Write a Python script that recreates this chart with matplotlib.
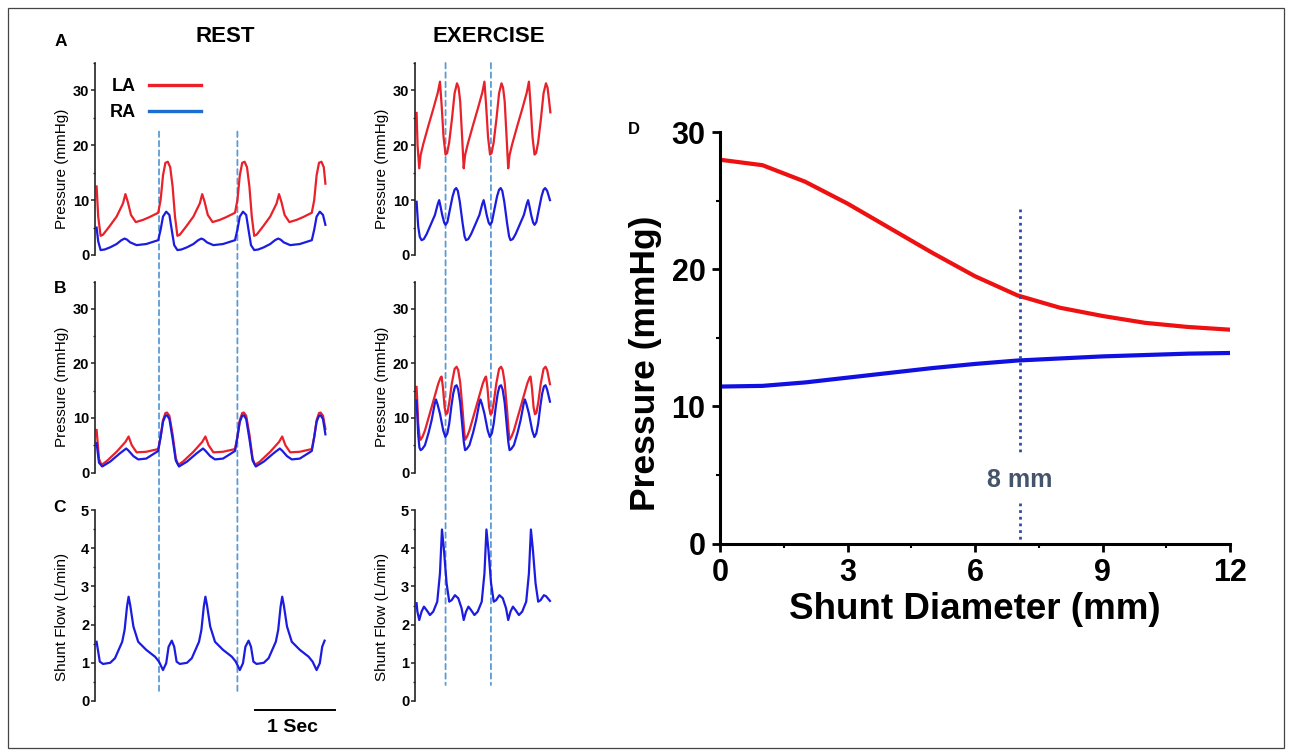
import matplotlib
matplotlib.use('Agg')
import matplotlib.pyplot as plt
from matplotlib.lines import Line2D
from matplotlib.patches import ConnectionPatch, Rectangle
from matplotlib.ticker import MultipleLocator

plt.rcParams['font.family'] = ['Liberation Sans', 'DejaVu Sans']

# ---------------- REST (time in s) ----------------
rest_a_la_t = [0.00, 0.02, 0.05, 0.08, 0.16, 0.25, 0.33, 0.36, 0.39, 0.43, 0.49, 0.58, 0.66, 0.77, 0.80, 0.83, 0.86, 0.89, 0.92, 0.95, 0.98,
               1.01, 1.04, 1.12, 1.21, 1.29, 1.32, 1.35, 1.39, 1.45, 1.54, 1.62, 1.73, 1.76, 1.79, 1.82, 1.85, 1.88, 1.91, 1.94,
               1.97, 2.00, 2.08, 2.17, 2.25, 2.28, 2.31, 2.35, 2.41, 2.50, 2.58, 2.69, 2.72, 2.75, 2.78, 2.81, 2.84, 2.86]
rest_a_la_p = [12.5, 7.0, 3.5, 3.7, 5.2, 7.0, 9.4, 11.1, 9.7, 7.3, 6.0, 6.4, 6.9, 7.7, 10.0, 14.5, 16.8, 17.0, 16.0, 12.5, 7.0,
               3.5, 3.7, 5.2, 7.0, 9.4, 11.1, 9.7, 7.3, 6.0, 6.4, 6.9, 7.7, 10.0, 14.5, 16.8, 17.0, 16.0, 12.5, 7.0,
               3.5, 3.7, 5.2, 7.0, 9.4, 11.1, 9.7, 7.3, 6.0, 6.4, 6.9, 7.7, 10.0, 14.5, 16.8, 17.0, 16.0, 13.0]

rest_a_ra_t = [0.00, 0.02, 0.05, 0.10, 0.17, 0.25, 0.31, 0.35, 0.38, 0.42, 0.50, 0.62, 0.77, 0.80, 0.83, 0.87, 0.91, 0.94, 0.97,
               1.01, 1.06, 1.13, 1.21, 1.27, 1.31, 1.34, 1.38, 1.46, 1.58, 1.73, 1.76, 1.79, 1.83, 1.87, 1.90, 1.93,
               1.97, 2.02, 2.09, 2.17, 2.23, 2.27, 2.30, 2.34, 2.42, 2.54, 2.69, 2.72, 2.75, 2.79, 2.83, 2.86]
rest_a_ra_p = [5.0, 2.5, 0.9, 1.0, 1.4, 2.0, 2.7, 3.0, 2.8, 2.3, 1.8, 2.0, 2.7, 4.6, 7.0, 7.9, 7.3, 4.5, 1.8,
               0.9, 1.0, 1.4, 2.0, 2.7, 3.0, 2.8, 2.3, 1.8, 2.0, 2.7, 4.6, 7.0, 7.9, 7.3, 4.5, 1.8,
               0.9, 1.0, 1.4, 2.0, 2.7, 3.0, 2.8, 2.3, 1.8, 2.0, 2.7, 4.6, 7.0, 7.9, 7.3, 5.5]

rest_b_la_t = [0.00, 0.03, 0.06, 0.12, 0.25, 0.36, 0.40, 0.44, 0.50, 0.62, 0.77, 0.80, 0.83, 0.86, 0.88, 0.91, 0.95, 0.99,
               1.02, 1.08, 1.21, 1.32, 1.36, 1.40, 1.46, 1.58, 1.73, 1.76, 1.79, 1.82, 1.84, 1.87, 1.91, 1.95,
               1.98, 2.04, 2.17, 2.28, 2.32, 2.36, 2.42, 2.54, 2.69, 2.72, 2.75, 2.78, 2.80, 2.83, 2.86]
rest_b_la_p = [7.8, 2.5, 1.4, 2.0, 3.8, 5.6, 6.6, 5.0, 3.7, 3.8, 4.3, 6.5, 9.6, 10.9, 11.0, 10.4, 7.0, 2.6,
               1.4, 2.0, 3.8, 5.6, 6.6, 5.0, 3.7, 3.8, 4.3, 6.5, 9.6, 10.9, 11.0, 10.4, 7.0, 2.6,
               1.4, 2.0, 3.8, 5.6, 6.6, 5.0, 3.7, 3.8, 4.3, 6.5, 9.6, 10.9, 11.0, 10.4, 8.0]

rest_b_ra_t = [0.00, 0.03, 0.07, 0.17, 0.29, 0.37, 0.40, 0.46, 0.52, 0.62, 0.77, 0.80, 0.83, 0.86, 0.88, 0.91, 0.95, 0.99,
               1.03, 1.13, 1.25, 1.33, 1.36, 1.42, 1.48, 1.58, 1.73, 1.76, 1.79, 1.82, 1.84, 1.87, 1.91, 1.95,
               1.99, 2.09, 2.21, 2.29, 2.32, 2.38, 2.44, 2.54, 2.69, 2.72, 2.75, 2.78, 2.80, 2.83, 2.86]
rest_b_ra_p = [5.4, 1.8, 1.1, 2.0, 3.5, 4.4, 4.0, 3.0, 2.4, 2.55, 3.95, 6.5, 9.3, 10.4, 10.5, 9.8, 6.2, 2.2,
               1.1, 2.0, 3.5, 4.4, 4.0, 3.0, 2.4, 2.55, 3.95, 6.5, 9.3, 10.4, 10.5, 9.8, 6.2, 2.2,
               1.1, 2.0, 3.5, 4.4, 4.0, 3.0, 2.4, 2.55, 3.95, 6.5, 9.3, 10.4, 10.5, 9.8, 7.0]

rest_c_t = [0.00, 0.01, 0.04, 0.08, 0.17, 0.23, 0.32, 0.35, 0.38, 0.40, 0.42, 0.46, 0.52, 0.62, 0.73, 0.78, 0.83, 0.87, 0.90, 0.94, 0.97, 1.00, 1.04,
            1.13, 1.19, 1.28, 1.31, 1.34, 1.36, 1.38, 1.42, 1.48, 1.58, 1.69, 1.74, 1.79, 1.83, 1.86, 1.90, 1.93, 1.96, 2.00,
            2.09, 2.15, 2.24, 2.27, 2.30, 2.32, 2.34, 2.38, 2.44, 2.54, 2.65, 2.70, 2.75, 2.79, 2.82, 2.85]
rest_c_q = [1.55, 1.42, 1.03, 0.97, 1.0, 1.12, 1.55, 1.86, 2.47, 2.73, 2.51, 1.95, 1.55, 1.34, 1.16, 1.03, 0.81, 0.99, 1.42, 1.58, 1.42, 1.03, 0.97,
            1.0, 1.12, 1.55, 1.86, 2.47, 2.73, 2.51, 1.95, 1.55, 1.34, 1.16, 1.03, 0.81, 0.99, 1.42, 1.58, 1.42, 1.03, 0.97,
            1.0, 1.12, 1.55, 1.86, 2.47, 2.73, 2.51, 1.95, 1.55, 1.34, 1.16, 1.03, 0.81, 0.99, 1.42, 1.58]

rest_dash_t = [0.78, 1.76]
scale_bar_t = [1.98, 2.98]

# ---------------- EXERCISE (time in s) ----------------
ex_a_la_t = [0.000, 0.012, 0.033, 0.050, 0.083, 0.146, 0.208, 0.265, 0.292, 0.312, 0.337, 0.362, 0.382, 0.407, 0.442, 0.475, 0.505, 0.525, 0.545, 0.567,
             0.589, 0.606, 0.639, 0.702, 0.764, 0.821, 0.848, 0.868, 0.893, 0.918, 0.938, 0.963, 0.998, 1.031, 1.061, 1.081, 1.101, 1.123,
             1.145, 1.162, 1.195, 1.258, 1.320, 1.377, 1.404, 1.424, 1.449, 1.474, 1.494, 1.519, 1.554, 1.587, 1.617, 1.637, 1.657, 1.672]
ex_a_la_p = [25.9, 20.0, 15.8, 18.2, 20.2, 23.5, 26.6, 29.6, 31.6, 27.5, 21.5, 18.3, 18.6, 20.5, 24.8, 29.5, 31.3, 30.5, 28.0, 22.0,
             15.8, 18.2, 20.2, 23.5, 26.6, 29.6, 31.6, 27.5, 21.5, 18.3, 18.6, 20.5, 24.8, 29.5, 31.3, 30.5, 28.0, 22.0,
             15.8, 18.2, 20.2, 23.5, 26.6, 29.6, 31.6, 27.5, 21.5, 18.3, 18.6, 20.5, 24.8, 29.5, 31.3, 30.5, 28.0, 26.0]

ex_a_ra_t = [0.000, 0.020, 0.040, 0.062, 0.090, 0.125, 0.167, 0.229, 0.265, 0.282, 0.300, 0.320, 0.345, 0.362, 0.385, 0.415, 0.450, 0.475, 0.495, 0.515, 0.540, 0.575, 0.600,
             0.618, 0.646, 0.681, 0.723, 0.785, 0.821, 0.838, 0.856, 0.876, 0.901, 0.918, 0.941, 0.971, 1.006, 1.031, 1.051, 1.071, 1.096, 1.131, 1.156,
             1.174, 1.202, 1.237, 1.279, 1.341, 1.377, 1.394, 1.412, 1.432, 1.457, 1.474, 1.497, 1.527, 1.562, 1.587, 1.607, 1.632, 1.667]
ex_a_ra_p = [9.7, 5.2, 3.3, 2.7, 2.9, 3.8, 5.2, 7.3, 9.3, 10.0, 8.8, 7.3, 5.9, 5.5, 6.0, 8.2, 10.7, 11.9, 12.2, 11.7, 9.7, 5.8, 3.4,
             2.7, 2.9, 3.8, 5.2, 7.3, 9.3, 10.0, 8.8, 7.3, 5.9, 5.5, 6.0, 8.2, 10.7, 11.9, 12.2, 11.7, 9.7, 5.8, 3.4,
             2.7, 2.9, 3.8, 5.2, 7.3, 9.3, 10.0, 8.8, 7.3, 5.9, 5.5, 6.0, 8.2, 10.7, 11.9, 12.2, 11.7, 10.0]

ex_b_la_t = [0.000, 0.020, 0.035, 0.050, 0.075, 0.104, 0.188, 0.271, 0.300, 0.312, 0.330, 0.350, 0.367, 0.385, 0.410, 0.440, 0.475, 0.500, 0.520, 0.545, 0.575, 0.595,
             0.606, 0.631, 0.660, 0.744, 0.827, 0.856, 0.868, 0.886, 0.906, 0.923, 0.941, 0.966, 0.996, 1.031, 1.056, 1.076, 1.101, 1.131, 1.151,
             1.162, 1.187, 1.216, 1.300, 1.383, 1.412, 1.424, 1.442, 1.462, 1.479, 1.497, 1.522, 1.552, 1.587, 1.612, 1.632, 1.667]
ex_b_la_p = [15.7, 9.0, 6.8, 6.0, 6.6, 7.7, 12.0, 16.3, 17.4, 17.6, 15.5, 12.0, 10.7, 10.9, 13.0, 16.3, 19.0, 19.4, 18.8, 16.5, 11.4, 7.5,
             6.0, 6.6, 7.7, 12.0, 16.3, 17.4, 17.6, 15.5, 12.0, 10.7, 10.9, 13.0, 16.3, 19.0, 19.4, 18.8, 16.5, 11.4, 7.5,
             6.0, 6.6, 7.7, 12.0, 16.3, 17.4, 17.6, 15.5, 12.0, 10.7, 10.9, 13.0, 16.3, 19.0, 19.4, 18.8, 16.2]

ex_b_ra_t = [0.000, 0.020, 0.035, 0.050, 0.070, 0.104, 0.150, 0.188, 0.225, 0.242, 0.260, 0.292, 0.333, 0.360, 0.385, 0.408, 0.435, 0.458, 0.480, 0.500, 0.520, 0.545, 0.570, 0.590,
             0.606, 0.626, 0.660, 0.706, 0.744, 0.781, 0.798, 0.816, 0.848, 0.889, 0.916, 0.941, 0.964, 0.991, 1.014, 1.036, 1.056, 1.076, 1.101, 1.126, 1.146,
             1.162, 1.182, 1.216, 1.262, 1.300, 1.337, 1.354, 1.372, 1.404, 1.445, 1.472, 1.497, 1.520, 1.547, 1.570, 1.592, 1.612, 1.632, 1.667]
ex_b_ra_p = [13.2, 7.0, 4.6, 4.1, 4.3, 5.0, 7.3, 9.6, 12.5, 13.4, 12.6, 10.8, 7.7, 6.5, 7.2, 9.0, 12.2, 14.5, 15.8, 16.0, 15.2, 12.8, 8.8, 5.6,
             4.1, 4.3, 5.0, 7.3, 9.6, 12.5, 13.4, 12.6, 10.8, 7.7, 6.5, 7.2, 9.0, 12.2, 14.5, 15.8, 16.0, 15.2, 12.8, 8.8, 5.6,
             4.1, 4.3, 5.0, 7.3, 9.6, 12.5, 13.4, 12.6, 10.8, 7.7, 6.5, 7.2, 9.0, 12.2, 14.5, 15.8, 16.0, 15.2, 13.0]

ex_c_t = [0.000, 0.010, 0.033, 0.062, 0.092, 0.125, 0.167, 0.208, 0.258, 0.292, 0.317, 0.342, 0.375, 0.408, 0.438, 0.479, 0.521, 0.562,
          0.589, 0.618, 0.648, 0.681, 0.723, 0.764, 0.814, 0.848, 0.873, 0.898, 0.931, 0.964, 0.994, 1.035, 1.077, 1.118,
          1.145, 1.174, 1.204, 1.237, 1.279, 1.320, 1.370, 1.404, 1.429, 1.454, 1.487, 1.520, 1.550, 1.591, 1.620, 1.667]
ex_c_q = [2.56, 2.34, 2.12, 2.34, 2.47, 2.38, 2.25, 2.34, 2.60, 3.34, 4.49, 3.95, 3.08, 2.60, 2.64, 2.77, 2.69, 2.43,
          2.12, 2.34, 2.47, 2.38, 2.25, 2.34, 2.60, 3.34, 4.49, 3.95, 3.08, 2.60, 2.64, 2.77, 2.69, 2.43,
          2.12, 2.34, 2.47, 2.38, 2.25, 2.34, 2.60, 3.34, 4.49, 3.95, 3.08, 2.60, 2.64, 2.77, 2.74, 2.62]

ex_dash_t = [0.362, 0.929]

# ---------------- D: pressure vs shunt diameter ----------------
shunt_mm = [0, 1, 2, 3, 4, 5, 6, 7, 8, 9, 10, 11, 12]
la_mean = [28.0, 27.6, 26.4, 24.8, 23.0, 21.2, 19.5, 18.1, 17.2, 16.6, 16.1, 15.8, 15.6]
ra_mean = [11.45, 11.5, 11.75, 12.1, 12.45, 12.8, 13.1, 13.35, 13.5, 13.65, 13.75, 13.85, 13.9]
mark_mm = 7.06
mark_segments = [(24.4, 6.45), (2.98, 0.0)]
mark_label = '8 mm'

legend_labels = ['LA', 'RA']

RED = '#e8212a'
BLUE = '#1c1ce0'
DASH = '#5b9bd5'

W, H = 1292, 755
fig = plt.figure(figsize=(W / 100, H / 100), dpi=100)


def px_axes(left, top, right, bottom):
    return fig.add_axes([left / W, 1 - bottom / H, (right - left) / W, (bottom - top) / H])


def style_trace_axes(ax, xlim, ylim, major, minor, ylabel, label_y):
    ax.set_xlim(*xlim)
    ax.set_ylim(*ylim)
    for s in ['top', 'right', 'bottom']:
        ax.spines[s].set_visible(False)
    ax.spines['left'].set_linewidth(1.2)
    ax.spines['left'].set_color('#222222')
    ax.set_xticks([])
    ax.set_yticks(major)
    ax.yaxis.set_minor_locator(MultipleLocator(minor))
    ax.tick_params(axis='y', which='major', length=3.2, width=1.1, pad=1, labelsize=10.5, colors='#222222')
    ax.tick_params(axis='y', which='minor', length=1.8, width=0.9, colors='#222222')
    for lbl in ax.get_yticklabels():
        lbl.set_fontweight('bold')
        lbl.set_color('black')
    ax.set_ylabel(ylabel, fontsize=11)
    w_px = ax.get_position().width * W
    ax.yaxis.set_label_coords(-26 / w_px, label_y)
    ax.patch.set_alpha(0)


# rest column
ax_ra = px_axes(95, 63, 335, 255)
ax_rb = px_axes(95, 281.7, 335, 472.5)
ax_rc = px_axes(95, 510, 335, 701)
# exercise column
ax_ea = px_axes(415, 63, 555, 255)
ax_eb = px_axes(415, 281.7, 555, 472.5)
ax_ec = px_axes(415, 510, 555, 701)

rest_x = (-0.02, 2.98)
ex_x = (-0.02, 1.73)
for ax, xl in [(ax_ra, rest_x), (ax_ea, ex_x)]:
    style_trace_axes(ax, xl, (0, 35), [0, 10, 20, 30], 5, 'Pressure (mmHg)', 0.448)
for ax, xl in [(ax_rb, rest_x), (ax_eb, ex_x)]:
    style_trace_axes(ax, xl, (0, 35), [0, 10, 20, 30], 5, 'Pressure (mmHg)', 0.45)
for ax, xl in [(ax_rc, rest_x), (ax_ec, ex_x)]:
    style_trace_axes(ax, xl, (0, 5), [0, 1, 2, 3, 4, 5], 0.5, 'Shunt Flow (L/min)', 0.44)

lw = 1.6
ax_ra.plot(rest_a_la_t, rest_a_la_p, color=RED, lw=lw)
ax_ra.plot(rest_a_ra_t, rest_a_ra_p, color=BLUE, lw=lw)
ax_rb.plot(rest_b_la_t, rest_b_la_p, color=RED, lw=lw)
ax_rb.plot(rest_b_ra_t, rest_b_ra_p, color=BLUE, lw=lw)
ax_rc.plot(rest_c_t, rest_c_q, color=BLUE, lw=lw)

ax_ea.plot(ex_a_la_t, ex_a_la_p, color=RED, lw=lw)
ax_ea.plot(ex_a_ra_t, ex_a_ra_p, color=BLUE, lw=lw)
ax_eb.plot(ex_b_la_t, ex_b_la_p, color=RED, lw=lw)
ax_eb.plot(ex_b_ra_t, ex_b_ra_p, color=BLUE, lw=lw)
ax_ec.plot(ex_c_t, ex_c_q, color=BLUE, lw=lw)

# dashed timing markers spanning A to C
for t in rest_dash_t:
    con = ConnectionPatch(xyA=(t, 22.5), coordsA=ax_ra.transData, xyB=(t, 0.18), coordsB=ax_rc.transData,
                          color=DASH, lw=1.3, linestyle=(0, (3, 2.2)), shrinkA=0, shrinkB=0, zorder=0)
    fig.add_artist(con)
for t in ex_dash_t:
    con = ConnectionPatch(xyA=(t, 35), coordsA=ax_ea.transData, xyB=(t, 0.42), coordsB=ax_ec.transData,
                          color=DASH, lw=1.3, linestyle=(0, (3, 2.2)), shrinkA=0, shrinkB=0, zorder=0)
    fig.add_artist(con)

# legend
handles = [Line2D([], [], color=RED, lw=2.4), Line2D([], [], color='#1b6fd1', lw=2.4)]
ax_ra.legend(handles, legend_labels, loc='upper left', bbox_to_anchor=(0.0625, 0.92), frameon=False,
             markerfirst=False, handlelength=2.9, handletextpad=0.7, labelspacing=0.5,
             borderpad=0, borderaxespad=0, prop={'weight': 'bold', 'size': 13})

# time scale bar
ax_rc.plot(scale_bar_t, [-0.24, -0.24], color='black', lw=1.4, clip_on=False)
ax_rc.text(sum(scale_bar_t) / 2 - 0.03, -0.7, '1 Sec', ha='center', va='center', fontsize=14, fontweight='bold')

# column titles and panel letters
fig.text(225 / W, 1 - 37 / H, 'REST', ha='center', va='center', fontsize=16, fontweight='bold')
fig.text(489 / W, 1 - 37 / H, 'EXERCISE', ha='center', va='center', fontsize=16, fontweight='bold')
for letter, (x, y) in zip(['A', 'B', 'C'], [(61, 41), (60, 288), (60, 508)]):
    fig.text(x / W, 1 - y / H, letter, ha='center', va='center', fontsize=12.5, fontweight='bold')

# ---------------- panel D ----------------
ax_d = px_axes(720, 132.3, 1230, 543.5)
ax_d.plot(shunt_mm, la_mean, color='#ee1111', lw=3)
ax_d.plot(shunt_mm, ra_mean, color='#1010e0', lw=3)
for y0, y1 in mark_segments:
    ax_d.plot([mark_mm, mark_mm], [y0, y1], color='#2c4ea6', lw=2, linestyle=(0, (1, 1.4)))
ax_d.text(mark_mm, 4.6, mark_label, ha='center', va='center', fontsize=18, fontweight='bold', color='#44546a')

ax_d.set_xlim(0, 12)
ax_d.set_ylim(0, 30)
ax_d.spines['top'].set_visible(False)
ax_d.spines['right'].set_visible(False)
for s in ['left', 'bottom']:
    ax_d.spines[s].set_linewidth(2.2)
ax_d.set_xticks([0, 3, 6, 9, 12])
ax_d.set_yticks([0, 10, 20, 30])
ax_d.xaxis.set_minor_locator(MultipleLocator(1.5))
ax_d.yaxis.set_minor_locator(MultipleLocator(5))
ax_d.tick_params(which='major', length=5.5, width=2, labelsize=22, pad=5)
ax_d.tick_params(which='minor', length=3, width=1.5)
for lbl in ax_d.get_xticklabels() + ax_d.get_yticklabels():
    lbl.set_fontweight('bold')
ax_d.set_ylabel('Pressure (mmHg)', fontsize=25.5, fontweight='bold')
ax_d.yaxis.set_label_coords(-58 / 510, 0.437)
ax_d.set_xlabel('Shunt Diameter (mm)', fontsize=26.5, fontweight='bold')
ax_d.xaxis.set_label_coords(0.5, -0.118)
fig.text(634 / W, 1 - 130 / H, 'D', ha='center', va='center', fontsize=12, fontweight='bold')

# outer frame
fig.add_artist(Rectangle((8 / W, 1 - 748 / H), 1276 / W, 740 / H, transform=fig.transFigure,
                         fill=False, edgecolor='#444444', lw=0.9))

fig.savefig('out.png', dpi=100)
